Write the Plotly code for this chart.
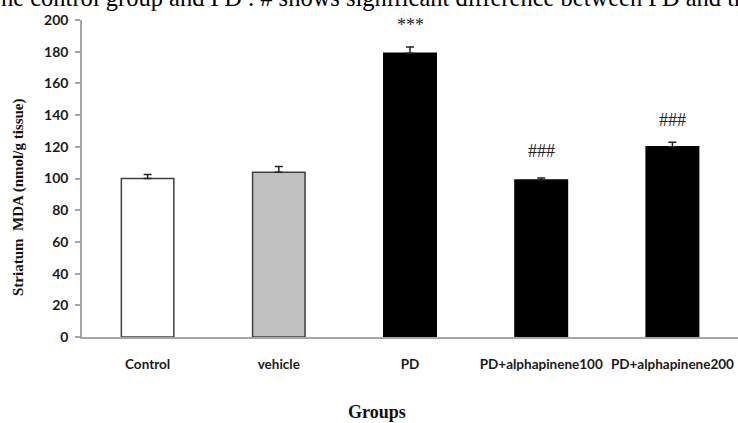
import plotly.graph_objects as go

categories = ["Control", "vehicle", "PD", "PD+alphapinene100", "PD+alphapinene200"]
mda_values = [100, 104, 179, 99, 120]
mda_errors = [2.5, 3.5, 4.0, 1.3, 2.8]
sig_labels = ["", "", "***", "###", "###"]
y_ticks = [0, 20, 40, 60, 80, 100, 120, 140, 160, 180, 200]

bar_fill = ["#ffffff", "#c0c0c0", "#000000", "#000000", "#000000"]
bar_line = ["#404040", "#404040", "#000000", "#000000", "#000000"]
sig_shift = [0, 0, 10, 15, 10]

W, H = 738, 423
L, R, T, B = 82, 0, 20, 86
pw, ph = W - L - R, H - T - B

fig = go.Figure()
fig.add_trace(go.Bar(
    x=categories, y=mda_values, width=0.4,
    marker=dict(color=bar_fill, line=dict(color=bar_line, width=1.5)),
    error_y=dict(type="data", symmetric=False, array=mda_errors,
                 arrayminus=[0] * len(mda_errors), color="#222222",
                 thickness=1.5, width=4),
    showlegend=False,
))

ann = []
for c, v, e, s, sh in zip(categories, mda_values, mda_errors, sig_labels, sig_shift):
    if s:
        ann.append(dict(x=c, y=v + e, xref="x", yref="y", text=s, showarrow=False,
                        yanchor="bottom", yshift=sh,
                        font=dict(family="Liberation Serif", size=18, color="#222222")))

def px_x(p):
    return (p - L) / pw

def px_y(p):
    return 1 - (p - T) / ph

ann.append(dict(xref="paper", yref="paper", x=px_x(377), y=px_y(412), text="<b>Groups</b>",
                showarrow=False, xanchor="center", yanchor="middle",
                font=dict(family="Liberation Serif", size=18, color="#111111")))
ann.append(dict(xref="paper", yref="paper", x=px_x(18), y=px_y(197),
                text="<b>Striatum  MDA (nmol/g tissue)</b>", textangle=-90,
                showarrow=False, xanchor="center", yanchor="middle",
                font=dict(family="Liberation Serif", size=15, color="#111111")))
ann.append(dict(xref="paper", yref="paper", x=px_x(-1), y=px_y(-3),
                text="he control group and PD . # shows significant difference between PD and treated groups",
                showarrow=False, xanchor="left", yanchor="middle",
                font=dict(family="Liberation Serif", size=24.5, color="#000000")))

fig.update_layout(
    width=W, height=H,
    margin=dict(l=L, r=R, t=T, b=B, pad=0),
    paper_bgcolor="white", plot_bgcolor="white",
    bargap=0.6,
    annotations=ann,
    xaxis=dict(showline=True, linecolor="#a6a6a6", linewidth=1.5, showgrid=False,
               ticks="", tickfont=dict(family="Lato", size=13.5, color="#1a1a1a"),
               ticklabelstandoff=14),
    yaxis=dict(range=[0, 200], tickvals=y_ticks, showline=True, linecolor="#a6a6a6",
               linewidth=1.5, showgrid=False, zeroline=False, ticks="outside", ticklen=5,
               tickcolor="#a6a6a6", tickwidth=1.5,
               tickfont=dict(family="Lato", size=14, color="#1a1a1a"),
               ticklabelstandoff=4),
)
fig.update_xaxes(tickfont_weight="bold")
fig.update_yaxes(tickfont_weight="bold")

fig.write_html("out.html")
